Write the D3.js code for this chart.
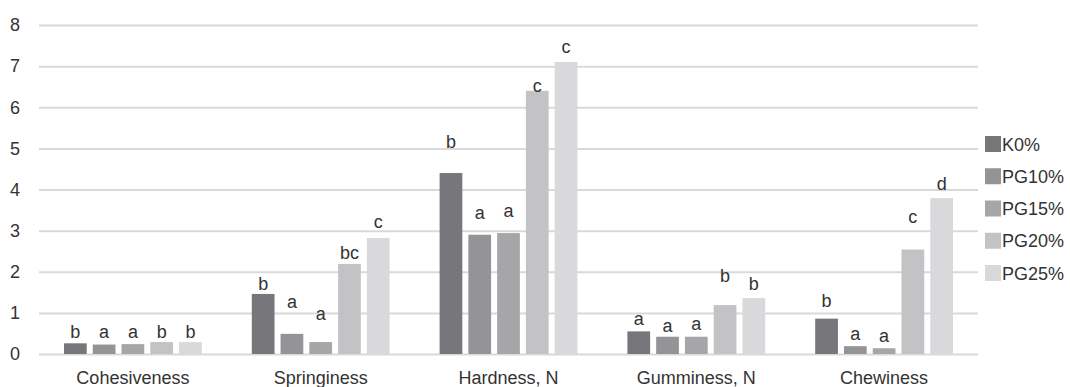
<!DOCTYPE html>
<html>
<head>
<meta charset="utf-8">
<script src="https://cdn.jsdelivr.net/npm/d3@7"></script>
<style>
  html, body { margin: 0; padding: 0; background: #fff; }
  svg { display: block; font-family: "Liberation Sans", Arial, sans-serif; }
</style>
</head>
<body>
<svg id="chart" width="1070" height="387"></svg>
<script>
const categories = ["Cohesiveness", "Springiness", "Hardness, N", "Gumminess, N", "Chewiness"];
const seriesNames = ["K0%", "PG10%", "PG15%", "PG20%", "PG25%"];
const seriesColors = ["#77777b", "#949497", "#a6a6a8", "#c3c3c5", "#d9d9db"];
// values per series, in category order
const K0    = [0.26, 1.46, 4.40, 0.55, 0.86];
const PG10  = [0.23, 0.49, 2.90, 0.42, 0.19];
const PG15  = [0.24, 0.29, 2.94, 0.42, 0.14];
const PG20  = [0.29, 2.19, 6.40, 1.19, 2.54];
const PG25  = [0.29, 2.82, 7.10, 1.36, 3.79];
// significance letters per series
const K0Letters   = ["b", "b", "b", "a", "b"];
const PG10Letters = ["a", "a", "a", "a", "a"];
const PG15Letters = ["a", "a", "a", "a", "a"];
const PG20Letters = ["b", "bc", "c", "b", "c"];
const PG25Letters = ["b", "c", "c", "b", "d"];
// letter positions (value units, mean + SD)
const K0Top   = [0.39, 1.56, 5.00, 0.71, 1.15];
const PG10Top = [0.39, 1.12, 3.28, 0.54, 0.34];
const PG15Top = [0.39, 0.83, 3.33, 0.58, 0.30];
const PG20Top = [0.40, 2.31, 6.37, 1.76, 3.18];
const PG25Top = [0.40, 3.06, 7.32, 1.56, 3.99];
const yTicks = [0, 1, 2, 3, 4, 5, 6, 7, 8];

const seriesValues = [K0, PG10, PG15, PG20, PG25];
const seriesLetters = [K0Letters, PG10Letters, PG15Letters, PG20Letters, PG25Letters];
const seriesTops = [K0Top, PG10Top, PG15Top, PG20Top, PG25Top];

const FS = 18;
const TXT = "#333333";
const svg = d3.select("#chart");
const plot = { left: 39, right: 978, top: 25, bottom: 354 };

const y = d3.scaleLinear().domain([0, 8]).range([plot.bottom, plot.top]);
const x0 = d3.scaleBand().domain(categories).range([plot.left, plot.right]).padding(0);
const x1 = d3.scaleBand().domain(seriesNames)
  .range([25, x0.bandwidth() - 25]).paddingInner(0.21).paddingOuter(0);
const color = d3.scaleOrdinal().domain(seriesNames).range(seriesColors);

// gridlines
const yAxis = d3.axisLeft(y).tickValues(yTicks).tickSize(-(plot.right - plot.left)).tickPadding(19);
const gy = svg.append("g").attr("transform", `translate(${plot.left},0)`).call(yAxis);
gy.select(".domain").remove();
gy.selectAll(".tick line").attr("stroke", "#d9d9d9").attr("stroke-width", 2);
gy.selectAll(".tick text").attr("fill", TXT).attr("font-size", FS)
  .attr("font-family", "Liberation Sans, Arial, sans-serif");

// bars
const data = [];
categories.forEach((c, ci) => {
  seriesNames.forEach((s, si) => {
    data.push({ cat: c, series: s, value: seriesValues[si][ci], letter: seriesLetters[si][ci], top: seriesTops[si][ci] });
  });
});

const groups = svg.append("g");
groups.selectAll("rect").data(data).join("rect")
  .attr("x", d => x0(d.cat) + x1(d.series))
  .attr("y", d => y(d.value))
  .attr("width", x1.bandwidth())
  .attr("height", d => y(0) - y(d.value))
  .attr("fill", d => color(d.series));

groups.selectAll("text.letter").data(data).join("text")
  .attr("class", "letter")
  .attr("x", d => x0(d.cat) + x1(d.series) + x1.bandwidth() / 2)
  .attr("y", d => y(d.top))
  .attr("text-anchor", "middle")
  .attr("font-size", FS)
  .attr("fill", TXT)
  .text(d => d.letter);

// x axis labels
const xAxis = d3.axisBottom(x0).tickSize(0).tickPadding(0);
const gx = svg.append("g").attr("transform", `translate(0,${plot.bottom})`).call(xAxis);
gx.select(".domain").remove();
gx.selectAll(".tick text").attr("font-size", FS).attr("fill", TXT)
  .attr("font-family", "Liberation Sans, Arial, sans-serif")
  .attr("dy", null).attr("y", 30);

// legend
const legendY = d3.scalePoint().domain(seriesNames).range([144, 273]);
const lg = svg.append("g");
lg.selectAll("rect").data(seriesNames).join("rect")
  .attr("x", 985).attr("y", d => legendY(d) - 8).attr("width", 16).attr("height", 16)
  .attr("fill", d => color(d));
lg.selectAll("text").data(seriesNames).join("text")
  .attr("x", 1002).attr("y", d => legendY(d) + 6.5)
  .attr("font-size", FS).attr("fill", TXT)
  .text(d => d);
</script>
</body>
</html>
